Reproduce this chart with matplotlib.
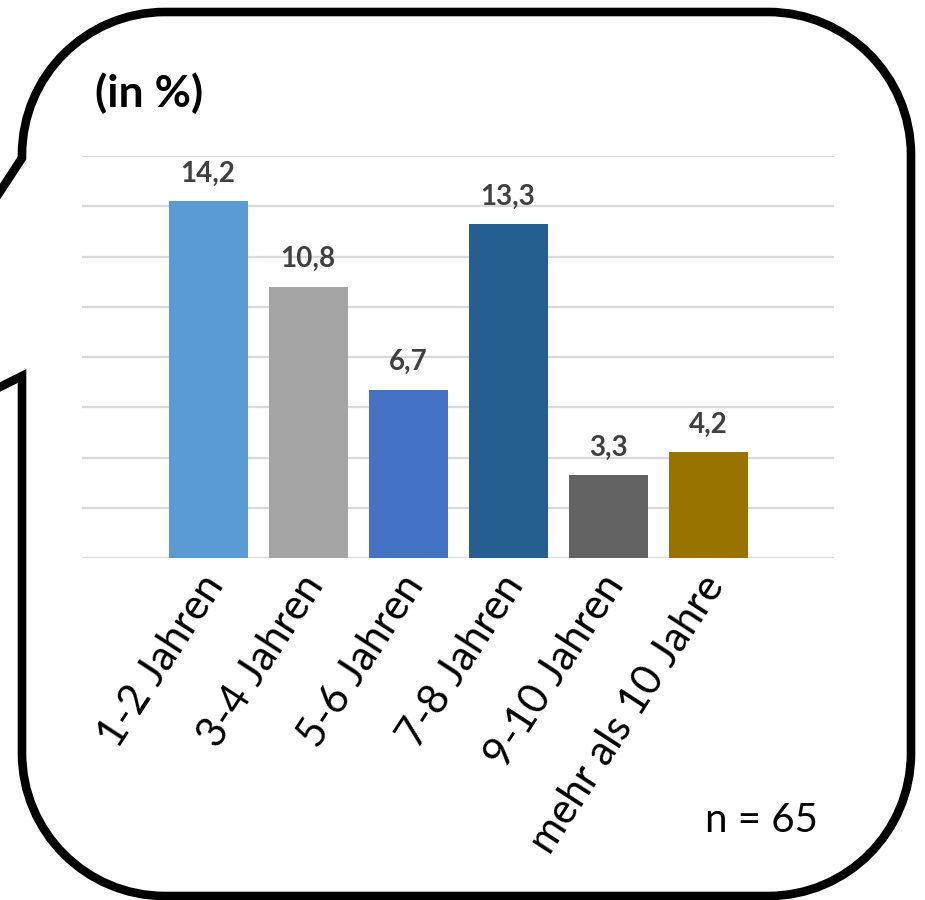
import matplotlib
matplotlib.use("Agg")
import matplotlib.pyplot as plt
from matplotlib.path import Path
from matplotlib.patches import PathPatch
from matplotlib.transforms import ScaledTranslation
import numpy as np

categories = ["1-2 Jahren", "3-4 Jahren", "5-6 Jahren", "7-8 Jahren", "9-10 Jahren", "mehr als 10 Jahre"]
values = [14.2, 10.8, 6.7, 13.3, 3.3, 4.2]
value_labels = ["14,2", "10,8", "6,7", "13,3", "3,3", "4,2"]
colors = ["#5B9BD5", "#A5A5A5", "#4472C4", "#255E91", "#636363", "#997300"]
title_text = "(in %)"
n_text = "n = 65"

plt.rcParams['font.family'] = ['Lato', 'DejaVu Sans']

W, H = 925, 900
fig = plt.figure(figsize=(W / 100, H / 100), dpi=100)

# Background speech bubble (pixel coordinates)
bg = fig.add_axes([0, 0, 1, 1])
bg.set_xlim(0, W)
bg.set_ylim(H, 0)
bg.axis('off')

L, R, T, B = 22, 911, 12, 896
r = 143
k = 0.5523 * r
verts = [
    (L, 158), (L, T + r),
    (L, T + r - k), (L + r - k, T), (L + r, T),
    (R - r, T),
    (R - r + k, T), (R, T + r - k), (R, T + r),
    (R, B - r),
    (R, B - r + k), (R - r + k, B), (R - r, B),
    (L + r, B),
    (L + r - k, B), (L, B - r + k), (L, B - r),
    (L, 376),
    (-190, 482),
    (L, 158),
]
codes = [Path.MOVETO, Path.LINETO,
         Path.CURVE4, Path.CURVE4, Path.CURVE4,
         Path.LINETO,
         Path.CURVE4, Path.CURVE4, Path.CURVE4,
         Path.LINETO,
         Path.CURVE4, Path.CURVE4, Path.CURVE4,
         Path.LINETO,
         Path.CURVE4, Path.CURVE4, Path.CURVE4,
         Path.LINETO,
         Path.LINETO,
         Path.CLOSEPOLY]
bg.add_patch(PathPatch(Path(verts, codes), facecolor='white', edgecolor='black',
                       linewidth=6.2, joinstyle='miter'))

bg.text(95, 107, title_text, fontsize=32, fontweight='bold', color='black',
        ha='left', va='baseline')
bg.text(818, 832, n_text, fontsize=29, color='black', ha='right', va='baseline')

# Chart axes
ax_l, ax_r, ax_t, ax_b = 82, 834, 156, 558
ax = fig.add_axes([ax_l / W, 1 - ax_b / H, (ax_r - ax_l) / W, (ax_b - ax_t) / H])
ax.patch.set_alpha(0)
x = np.arange(len(categories))
ax.bar(x, values, width=0.79, color=colors, zorder=3)
ax.set_xlim(-1.26, 6.26)
ax.set_ylim(0, 16)
ax.set_yticks(np.arange(0, 17, 2))
ax.yaxis.grid(True, color='#D9D9D9', linewidth=1.6, zorder=0)
ax.set_yticklabels([])
ax.tick_params(axis='y', length=0)
for s in ax.spines.values():
    s.set_visible(False)

ax.set_xticks(x)
ax.set_xticklabels(categories, rotation=57, ha='right', va='center',
                   rotation_mode='anchor', fontsize=30, color='black')
ax.tick_params(axis='x', length=0, pad=15)
shift = ScaledTranslation(7 / 100, 0, fig.dpi_scale_trans)
for lab in ax.get_xticklabels():
    lab.set_transform(lab.get_transform() + shift)

for xi, v, lab in zip(x, values, value_labels):
    ax.annotate(lab, (xi, v), xytext=(0, 14), textcoords='offset points',
                ha='center', va='baseline', fontsize=20, fontweight='bold',
                color='#404040', zorder=4)

fig.savefig("out.png", dpi=100)
